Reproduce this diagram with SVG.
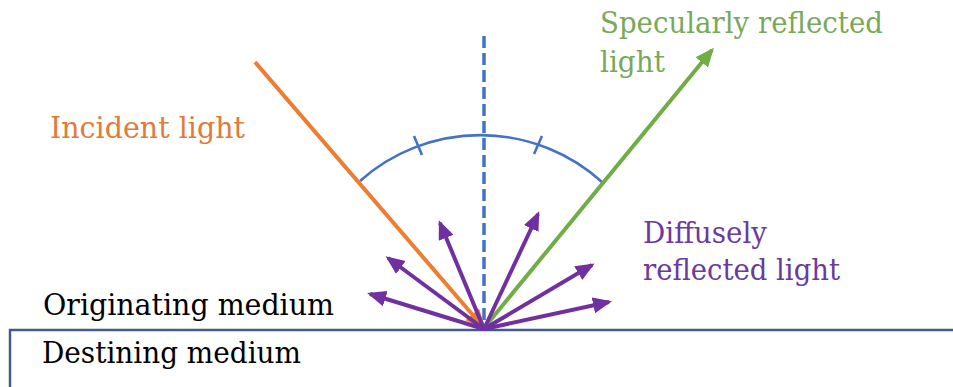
<svg xmlns="http://www.w3.org/2000/svg" width="953" height="387" viewBox="0 0 953 387">
<style>
text{font-family:"DejaVu Serif","Liberation Serif",serif;font-size:30px}
.pur{stroke:#7030A0;stroke-width:4;fill:none}
</style>
<defs>
<marker id="ap" markerUnits="userSpaceOnUse" markerWidth="22" markerHeight="18" refX="16" refY="8" orient="auto" viewBox="0 0 22 18"><path d="M0,0 L19,8 L0,16 z" fill="#7030A0"/></marker>
<marker id="ag" markerUnits="userSpaceOnUse" markerWidth="22" markerHeight="18" refX="16" refY="8" orient="auto" viewBox="0 0 22 18"><path d="M0,0 L19,8 L0,16 z" fill="#70AD47"/></marker>
<marker id="ao" markerUnits="userSpaceOnUse" markerWidth="24" markerHeight="20" refX="18" refY="9" orient="auto" viewBox="0 0 24 20"><path d="M0,0 L21,9 L0,18 z" fill="#ED7D31"/></marker>
</defs>
<g id="media">
<path d="M10,387 L10,330 L953,330" fill="none" stroke="#44598C" stroke-width="2.5"/>
<text id="orig" x="43" y="315" textLength="291" lengthAdjust="spacingAndGlyphs" fill="#000">Originating medium</text>
<text id="dest" x="42" y="363" textLength="259" lengthAdjust="spacingAndGlyphs" fill="#000">Destining medium</text>
</g>
<g id="normal">
<line x1="484" y1="36" x2="484" y2="328" stroke="#4472C4" stroke-width="3.5" stroke-dasharray="12,5"/>
</g>
<g id="angle-arc" fill="none" stroke="#4472C4" stroke-width="2.6">
<path d="M360,181 A181,181 0 0 1 602,182"/>
<line x1="414" y1="136" x2="422" y2="155"/>
<line x1="542" y1="136" x2="534" y2="154"/>
</g>
<g id="connectors">
<line id="incident" x1="255" y1="62" x2="484" y2="328" stroke="#ED7D31" stroke-width="4" marker-end="url(#ao)"/>
<line id="specular" x1="484" y1="328" x2="712" y2="50" stroke="#70AD47" stroke-width="4" marker-end="url(#ag)"/>
<line class="pur" x1="484" y1="329" x2="370" y2="294" marker-end="url(#ap)"/>
<line class="pur" x1="484" y1="329" x2="388" y2="258" marker-end="url(#ap)"/>
<line class="pur" x1="484" y1="329" x2="440" y2="223" marker-end="url(#ap)"/>
<line class="pur" x1="484" y1="329" x2="538" y2="214" marker-end="url(#ap)"/>
<line class="pur" x1="484" y1="329" x2="592" y2="265" marker-end="url(#ap)"/>
<line class="pur" x1="484" y1="329" x2="609" y2="302" marker-end="url(#ap)"/>
</g>
<g id="incident-label"><text x="50" y="138" textLength="195" lengthAdjust="spacingAndGlyphs" fill="#E07B39">Incident light</text></g>
<g id="specular-label" fill="#78A95A">
<text x="600" y="33" textLength="283" lengthAdjust="spacingAndGlyphs">Specularly reflected</text>
<text x="600" y="72" textLength="65" lengthAdjust="spacingAndGlyphs">light</text>
</g>
<g id="diffuse-label" fill="#6A3A9E">
<text x="643" y="243" textLength="124" lengthAdjust="spacingAndGlyphs">Diffusely</text>
<text x="643" y="280" textLength="197" lengthAdjust="spacingAndGlyphs">reflected light</text>
</g>
</svg>
